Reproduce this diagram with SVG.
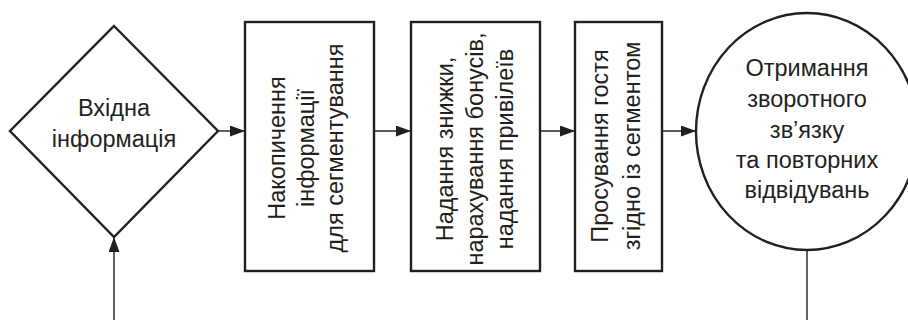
<svg xmlns="http://www.w3.org/2000/svg" width="908" height="320" viewBox="0 0 908 320">
<defs>
<marker id="arr" viewBox="0 0 15 11" refX="15" refY="5.5" markerWidth="15" markerHeight="11" markerUnits="userSpaceOnUse" orient="auto">
<path d="M0,0 L15,5.5 L0,11 Z" fill="#231f20"/>
</marker>
<style>
.shape{fill:#fff;stroke:#231f20;stroke-width:2.4}
.conn{fill:none;stroke:#231f20;stroke-width:1.4}
.lbl{font-family:"Liberation Sans",Arial,sans-serif;font-size:23.5px;fill:#231f20;text-anchor:middle}
</style>
</defs>
<rect width="908" height="320" fill="#fff"/>
<g id="connectors">
<line class="conn" x1="218" y1="131" x2="245" y2="131" marker-end="url(#arr)"/>
<line class="conn" x1="374" y1="131" x2="411" y2="131" marker-end="url(#arr)"/>
<line class="conn" x1="540" y1="131" x2="575" y2="131" marker-end="url(#arr)"/>
<line class="conn" x1="662" y1="131" x2="696" y2="131" marker-end="url(#arr)"/>
<line class="conn" x1="114" y1="320" x2="114" y2="237" marker-end="url(#arr)"/>
<line class="conn" x1="807" y1="250" x2="807" y2="320"/>
</g>
<g id="input">
<polygon class="shape" points="114,26 218,131 114,237 10,131"/>
<text class="lbl" x="114" y="116">Вхідна</text>
<text class="lbl" x="114" y="147">інформація</text>
</g>
<g id="accumulate">
<rect class="shape" x="245" y="22" width="129" height="249"/>
<text class="lbl" transform="translate(285,148) rotate(-90)"><tspan x="0" y="0">Накопичення</tspan><tspan x="0" y="29">інформації</tspan><tspan x="0" y="58">для сегментування</tspan></text>
</g>
<g id="discount">
<rect class="shape" x="411" y="22" width="129" height="249"/>
<text class="lbl" transform="translate(453,149) rotate(-90)"><tspan x="0" y="0">Надання знижки,</tspan><tspan x="0" y="30">нарахування бонусів,</tspan><tspan x="0" y="60">надання привілеїв</tspan></text>
</g>
<g id="promote">
<rect class="shape" x="575" y="22" width="87" height="249"/>
<text class="lbl" transform="translate(608,146) rotate(-90)"><tspan x="0" y="0">Просування гостя</tspan><tspan x="0" y="32">згідно із сегментом</tspan></text>
</g>
<g id="feedback">
<ellipse class="shape" cx="807" cy="131.5" rx="111" ry="118.5"/>
<text class="lbl" x="807" y="76">Отримання</text>
<text class="lbl" x="807" y="107">зворотного</text>
<text class="lbl" x="807" y="138">зв’язку</text>
<text class="lbl" x="807" y="168">та повторних</text>
<text class="lbl" x="807" y="198">відвідувань</text>
</g>
</svg>
